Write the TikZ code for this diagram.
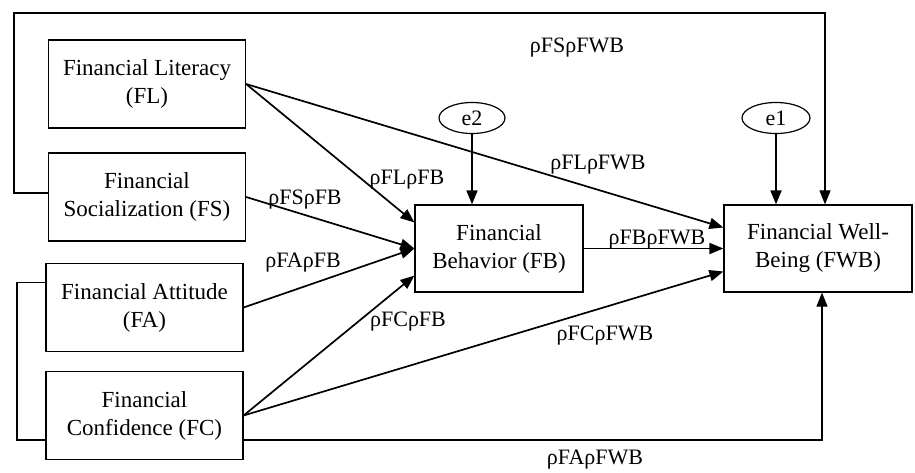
\documentclass[tikz,border=0pt]{standalone}
\usepackage{fontspec}
\setmainfont{Liberation Serif}
\usetikzlibrary{arrows.meta,positioning,calc,shapes.geometric}

\begin{document}
\begin{tikzpicture}[x=1pt, y=-1pt,
    var/.style={rectangle, draw, fill=white, line width=1.2pt, minimum width=197pt,
                minimum height=88pt, align=center, inner sep=2pt, font=\rmfamily\fontsize{23}{28}\selectfont},
    err/.style={ellipse, draw, fill=white, line width=1.2pt, minimum width=66pt,
                minimum height=31pt, inner sep=0pt, font=\rmfamily\fontsize{22}{26}\selectfont},
    link/.style={-{Triangle[length=14pt,width=11pt]}, line width=1.7pt},
    loop/.style={line width=1.1pt},
    lbl/.style={font=\rmfamily\fontsize{22}{26}\selectfont, inner sep=1pt}
]
    \useasboundingbox (0,0) rectangle (915,473);

    % exogenous variables
    \node[var] (fl) at (147,84) {Financial Literacy\\(FL)};
    \node[var] (fs) at (147,197) {Financial\\Socialization (FS)};
    \node[var] (fa) at (144.5,307.5) {Financial Attitude\\(FA)};
    \node[var] (fc) at (144.5,415.5) {Financial\\Confidence (FC)};

    % mediator and outcome
    \node[var, minimum width=168pt, minimum height=87pt] (fb) at (499,248.5) {Financial\\Behavior (FB)};
    \node[var, minimum width=188pt, minimum height=87pt] (fwb) at (818,248.5) {Financial Well-\\Being (FWB)};

    % error terms
    \node[err] (e2) at (472,118) {e2};
    \node[err, minimum width=68pt] (e1) at (776,118) {e1};

    % direct paths around the model
    \draw[loop, -{Triangle[length=14pt,width=11pt]}] ([yshift=4pt]fs.west) -| (14,13) -| ([xshift=7pt]fwb.north);
    \draw[loop] ([yshift=25pt]fa.west) -| (17,440) -- ([yshift=-24.5pt]fc.west);
    \draw[loop, -{Triangle[length=14pt,width=11pt]}] ([yshift=-24.5pt]fc.east) -| ([xshift=4pt]fwb.south);

    % paths to FB
    \draw[link] (fl.east) -- ([yshift=26pt]fb.west);
    \draw[link] (fs.east) -- (fb.west);
    \draw[link] (fa.east) -- (fb.west);
    \draw[link] (fc.east) -- ([yshift=17pt]fb.south west);
    \draw[link] (e2) -- (e2 |- fb.north);

    % paths to FWB
    \draw[link] (fl.east) -- ([yshift=21pt]fwb.west);
    \draw[link] (fc.east) -- ([yshift=-23pt]fwb.west);
    \draw[link] (fb.east) -- (fwb.west);
    \draw[link] (e1) -- (e1 |- fwb.north);

    % coefficients
    \node[lbl] (l1) at (577,48) {ρFSρFWB};
    \node[lbl] (l2) at (407,180) {ρFLρFB};
    \node[lbl] (l3) at (305,200) {ρFSρFB};
    \node[lbl] (l4) at (598,165) {ρFLρFWB};
    \node[lbl] (l5) at (303,263) {ρFAρFB};
    \node[lbl] (l6) at (408,322) {ρFCρFB};
    \node[lbl] (l7) at (657,240) {ρFBρFWB};
    \node[lbl] (l8) at (605,336) {ρFCρFWB};
    \node[lbl] (l9) at (595,460) {ρFAρFWB};
\end{tikzpicture}
\end{document}
